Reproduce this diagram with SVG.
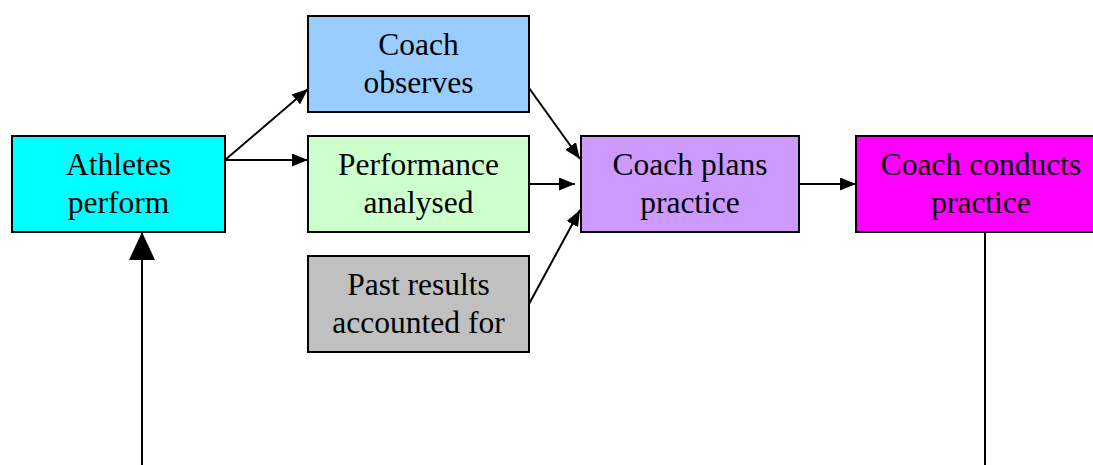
<svg xmlns="http://www.w3.org/2000/svg" width="1093" height="465" viewBox="0 0 1093 465">
<style>
.box{stroke:#000;stroke-width:2}
.t{font-family:"Liberation Serif","Times New Roman",serif;font-size:31.5px;fill:#000;text-anchor:middle}
.c{stroke:#000;stroke-width:2;fill:none}
</style>
<defs>
<marker id="ah" viewBox="0 0 16 13" refX="16" refY="6.5" markerWidth="16" markerHeight="13" markerUnits="userSpaceOnUse" orient="auto">
<path d="M0,0 L16,6.5 L0,13 Z" fill="#000"/>
</marker>
<marker id="big" viewBox="0 0 28 26" refX="28" refY="13" markerWidth="28" markerHeight="26" markerUnits="userSpaceOnUse" orient="auto">
<path d="M0,0 L28,13 L0,26 Z" fill="#000"/>
</marker>
</defs>
<rect width="1093" height="465" fill="#fff"/>
<g id="connectors">
<line class="c" x1="225" y1="160" x2="308" y2="89" marker-end="url(#ah)"/>
<line class="c" x1="225" y1="160" x2="308" y2="160" marker-end="url(#ah)"/>
<line class="c" x1="529" y1="88" x2="580" y2="159" marker-end="url(#ah)"/>
<line class="c" x1="529" y1="184" x2="575" y2="184" marker-end="url(#ah)"/>
<line class="c" x1="529" y1="304" x2="580" y2="210" marker-end="url(#ah)"/>
<line class="c" x1="799" y1="184" x2="856" y2="184" marker-end="url(#ah)"/>
<line class="c" x1="985" y1="232" x2="985" y2="465"/>
<line class="c" x1="142" y1="465" x2="142" y2="232" marker-end="url(#big)"/>
</g>
<g id="athletes">
<rect class="box" x="12" y="136" width="213" height="96" fill="#00FFFF"/>
<text class="t" x="118.5" y="175">Athletes</text>
<text class="t" x="118.5" y="213">perform</text>
</g>
<g id="observes">
<rect class="box" x="308" y="16" width="221" height="96" fill="#99CCFF"/>
<text class="t" x="418.5" y="55">Coach</text>
<text class="t" x="418.5" y="93">observes</text>
</g>
<g id="analysed">
<rect class="box" x="308" y="136" width="221" height="96" fill="#CCFFCC"/>
<text class="t" x="418.5" y="175">Performance</text>
<text class="t" x="418.5" y="213">analysed</text>
</g>
<g id="past">
<rect class="box" x="308" y="256" width="221" height="96" fill="#C0C0C0"/>
<text class="t" x="418.5" y="295">Past results</text>
<text class="t" x="418.5" y="333">accounted for</text>
</g>
<g id="plans">
<rect class="box" x="581" y="136" width="218" height="96" fill="#CC99FF"/>
<text class="t" x="690" y="175">Coach plans</text>
<text class="t" x="690" y="213">practice</text>
</g>
<g id="conducts">
<rect class="box" x="856" y="136" width="250" height="96" fill="#FF00FF"/>
<text class="t" x="981" y="175">Coach conducts</text>
<text class="t" x="981" y="213">practice</text>
</g>
</svg>
